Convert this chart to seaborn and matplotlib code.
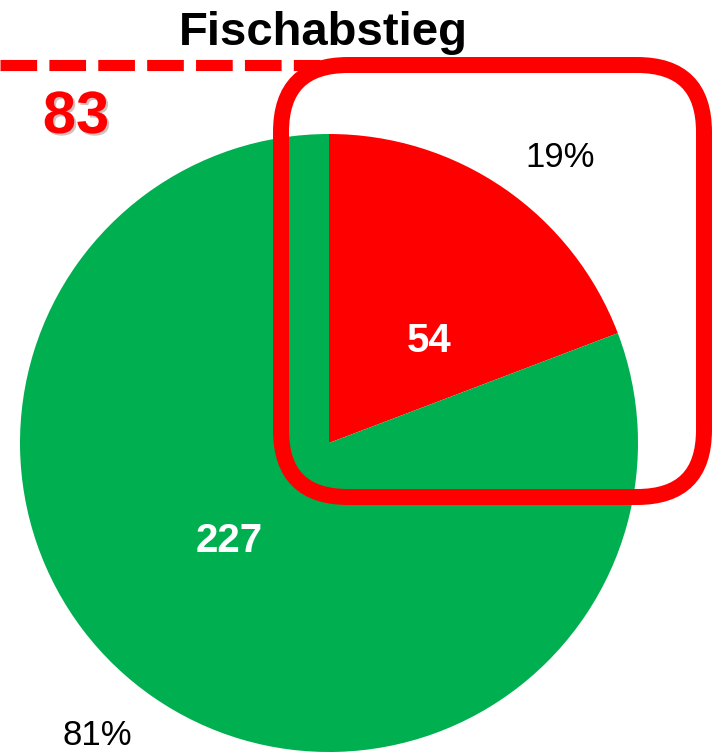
import numpy as np
import pandas as pd
import seaborn as sns
import matplotlib.pyplot as plt
from matplotlib.patches import FancyBboxPatch
import matplotlib.patheffects as pe

# data
categories = ["Abstieg", "Kein Abstieg"]
counts = [54, 227]
colors = ["#FF0000", "#00B050"]
total_label = 83
title = "Fischabstieg"

sns.set_theme(style="white")
plt.rcParams['font.family'] = ['Liberation Sans', 'DejaVu Sans']
plt.rcParams['text.color'] = 'black'

df = pd.DataFrame({"cat": categories, "n": counts})
df["pct"] = df["n"] / df["n"].sum() * 100
pal = sns.color_palette(colors)

fig = plt.figure(figsize=(7.21, 7.55), dpi=100)
ax = fig.add_axes([0, 0, 1, 1])

# axes in pixel units, pie centre
ax.pie(df["n"], colors=pal, startangle=90, counterclock=False,
       center=(329, 312), radius=309, wedgeprops={"linewidth": 0})
ax.set_xlim(0, 721)
ax.set_ylim(0, 755)
ax.set_aspect("auto")
ax.axis("off")

# labels
ax.text(429, 403, f"{df['n'][0]}", color="white", fontsize=29, fontweight="bold",
        ha="center", va="baseline")
ax.text(229, 203, f"{df['n'][1]}", color="white", fontsize=29, fontweight="bold",
        ha="center", va="baseline")
ax.text(560, 588, f"{df['pct'][0]:.0f}%", color="black", fontsize=25,
        ha="center", va="baseline")
ax.text(97, 10, f"{df['pct'][1]:.0f}%", color="black", fontsize=25,
        ha="center", va="baseline")

ax.text(323, 710, title, color="black", fontsize=34, fontweight="bold",
        ha="center", va="baseline")

# dashed reference line and its value
ax.plot([0, 320], [690, 690], color="#FF0000", lw=8, ls=(0, (3.3, 1.1)),
        solid_capstyle="butt", dash_capstyle="butt", zorder=3)
ax.text(76, 622, str(total_label), color="#FF0000", fontsize=43, fontweight="bold",
        ha="center", va="baseline",
        path_effects=[pe.SimplePatchShadow(offset=(1.5, -1.5), alpha=0.25), pe.Normal()])

# highlight box
box = FancyBboxPatch((281, 258), 423, 432,
                     boxstyle="round,pad=0,rounding_size=67",
                     fill=False, edgecolor="#FF0000", lw=11.5, zorder=4)
ax.add_patch(box)

fig.savefig("out.png", dpi=100)
